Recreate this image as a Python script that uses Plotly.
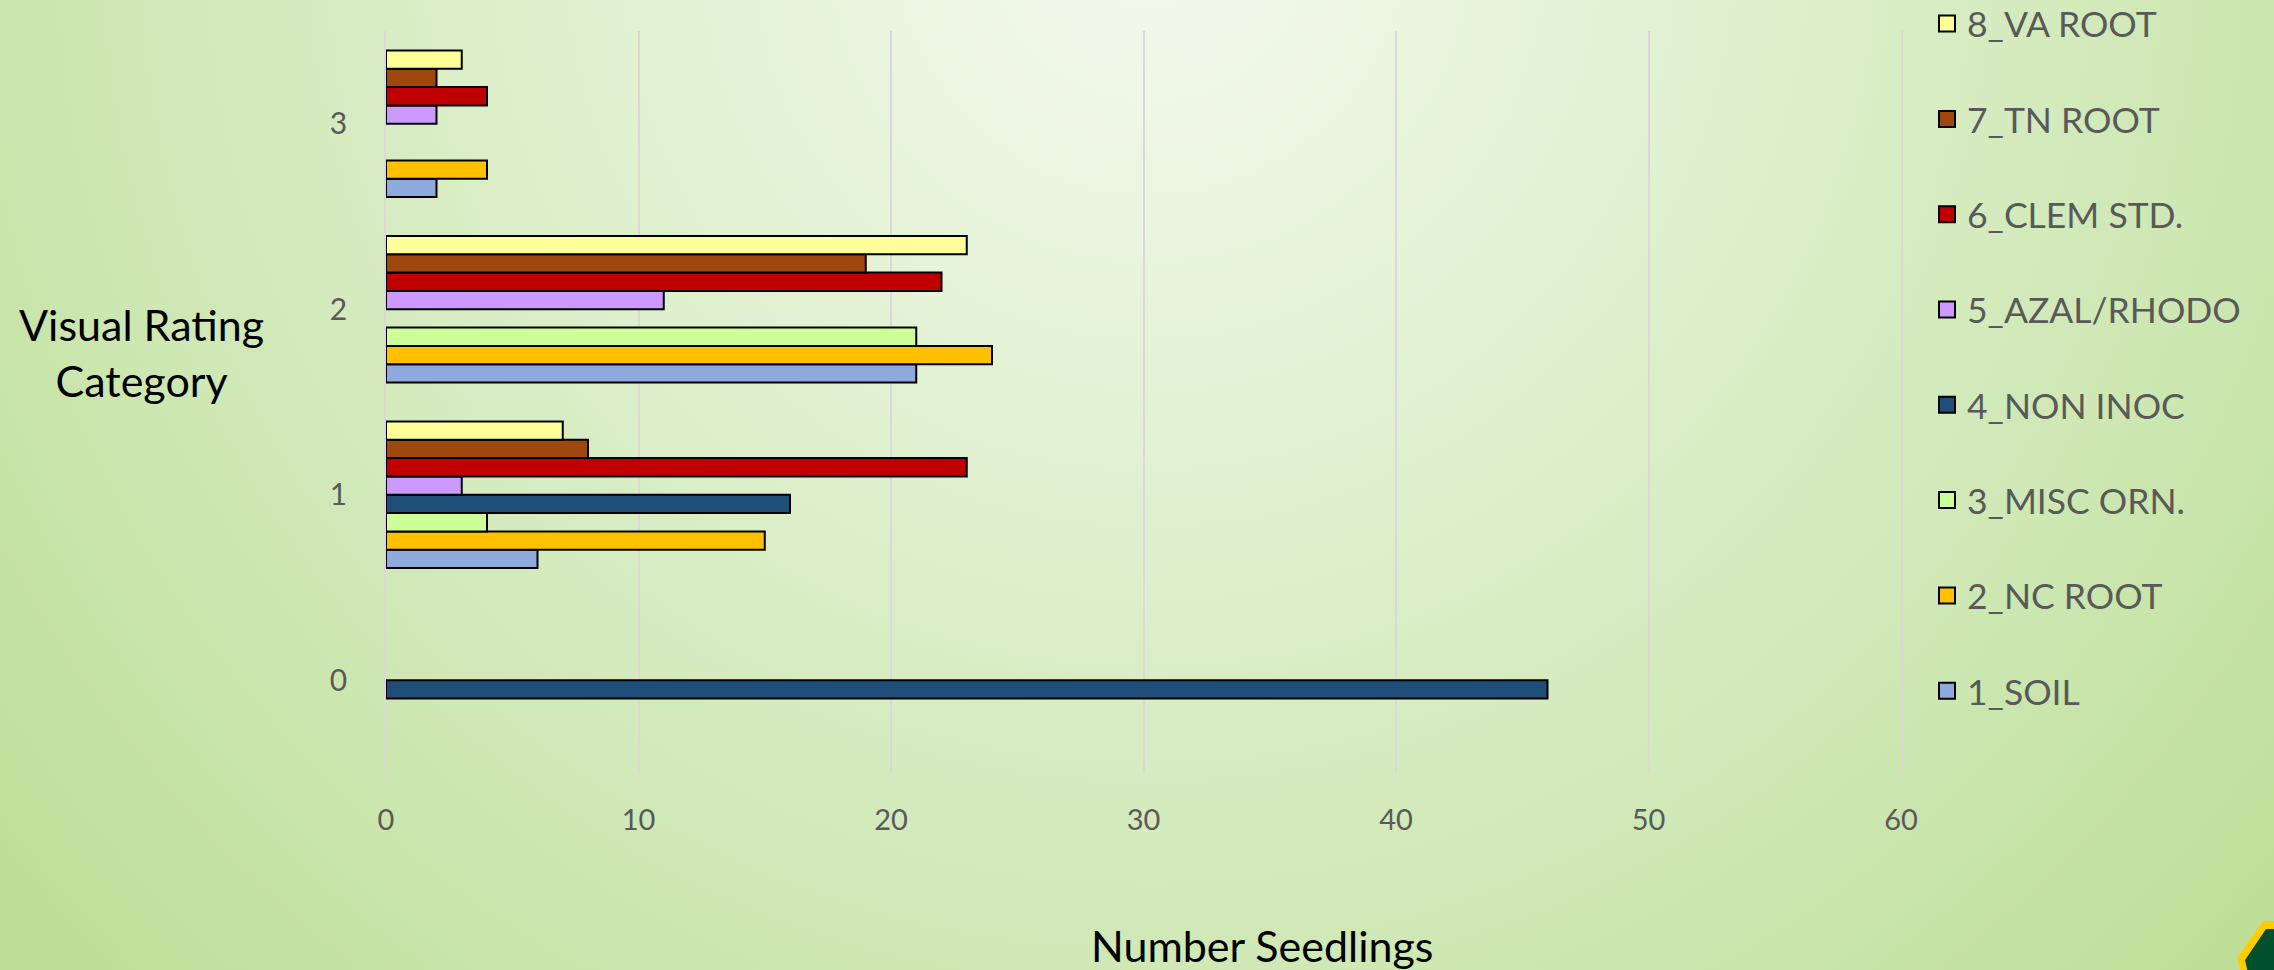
import base64
import plotly.graph_objects as go

# ---- data ----
categories = ["0", "1", "2", "3"]
series_names = ["1_SOIL", "2_NC ROOT", "3_MISC ORN.", "4_NON INOC",
                "5_AZAL/RHODO", "6_CLEM STD.", "7_TN ROOT", "8_VA ROOT"]
soil = [None, 6, 21, 2]
nc_root = [None, 15, 24, 4]
misc_orn = [None, 4, 21, None]
non_inoc = [46, 16, None, None]
azal_rhodo = [None, 3, 11, 2]
clem_std = [None, 23, 22, 4]
tn_root = [None, 8, 19, 2]
va_root = [None, 7, 23, 3]
x_ticks = [0, 10, 20, 30, 40, 50, 60]

series_values = [soil, nc_root, misc_orn, non_inoc, azal_rhodo, clem_std, tn_root, va_root]
colors = ["#8EA9DB", "#FFC000", "#CCFF99", "#1F4E79",
          "#CC99FF", "#C00000", "#9E480E", "#FFFF99"]

W, H = 2274, 970
L, R, T, B = 386, 373, 31, 197
pw, ph = W - L - R, H - T - B


def px(xp):
    return (xp - L) / pw


def py(yp):
    return (H - B - yp) / ph


fig = go.Figure()
for name, vals, col in zip(series_names, series_values, colors):
    fig.add_trace(go.Bar(
        y=categories, x=vals, orientation="h", name=name,
        marker=dict(color=col, line=dict(color="#000000", width=2)),
        showlegend=False,
    ))
# legend entries (larger square swatches), top item = 8_VA ROOT
for i in range(len(series_names) - 1, -1, -1):
    fig.add_trace(go.Scatter(
        x=[None], y=[None], mode="markers", name=series_names[i] + "<br> ",
        marker=dict(symbol="square", size=16, color=colors[i],
                    line=dict(color="#000000", width=2)),
    ))

# background gradient as svg
svg = f'''<svg xmlns="http://www.w3.org/2000/svg" width="{W}" height="{H}" viewBox="0 0 {W} {H}">
<defs><radialGradient id="g" gradientUnits="userSpaceOnUse" cx="1150" cy="-60" r="1480">
<stop offset="0" stop-color="#f3faee"/>
<stop offset="0.35" stop-color="#e1f1d2"/>
<stop offset="0.7" stop-color="#cfe8b5"/>
<stop offset="1" stop-color="#bedf98"/>
</radialGradient></defs>
<rect x="0" y="0" width="{W}" height="{H}" fill="url(#g)"/></svg>'''
src = "data:image/svg+xml;base64," + base64.b64encode(svg.encode()).decode()


def poly(points):
    return "M " + " L ".join(f"{px(a):.5f},{py(b):.5f}" for a, b in points) + " Z"


logo_outer = [(2263, 921), (2290, 921), (2290, 990), (2246, 990), (2237, 958)]
logo_inner = [(2266, 929), (2290, 929), (2290, 990), (2252, 990), (2245, 960)]

fig.update_layout(
    width=W, height=H,
    margin=dict(l=L, r=R, t=T, b=B, pad=0, autoexpand=False),
    paper_bgcolor="#d3ebbd",
    plot_bgcolor="rgba(0,0,0,0)",
    barmode="group", bargap=0.21, bargroupgap=0,
    font=dict(family="Lato, Carlito, Calibri, sans-serif", color="#595959"),
    images=[dict(source=src, xref="paper", yref="paper",
                 x=-L / pw, y=1 + T / ph, sizex=W / pw, sizey=H / ph,
                 xanchor="left", yanchor="top", sizing="stretch", layer="below")],
    shapes=[
        dict(type="path", xref="paper", yref="paper", path=poly(logo_outer),
             fillcolor="#FFCC00", line=dict(width=0), layer="above"),
        dict(type="path", xref="paper", yref="paper", path=poly(logo_inner),
             fillcolor="#00502D", line=dict(width=0), layer="above"),
    ],
    legend=dict(
        x=px(1927), xanchor="left", y=1 + (T + 6) / ph, yanchor="top",
        traceorder="normal", valign="top", maxheight=965,
        font=dict(size=35.5, color="#595959"), bgcolor="rgba(0,0,0,0)",
        itemwidth=30,
    ),
    xaxis=dict(range=[0, 60], tickvals=x_ticks, showgrid=True,
               gridcolor="#d9d9d9", gridwidth=1.5, zeroline=False,
               showline=False, ticks="", tickfont=dict(size=29, color="#595959"),
               ticklabelstandoff=27, fixedrange=True),
    yaxis=dict(type="category", categoryorder="array", categoryarray=categories,
               showgrid=False, zeroline=False, ticks="",
               showline=True, mirror=True, linecolor="#d9d9d9", linewidth=1.5,
               layer="below traces",
               tickfont=dict(size=30, color="#595959"), ticklabelstandoff=31),
    annotations=[
        dict(text="Visual Rating<br>Category", xref="paper", yref="paper",
             x=px(141), y=py(352), showarrow=False,
             xanchor="center", yanchor="middle", align="center",
             font=dict(size=43, color="#000000")),
        dict(text="Number Seedlings", xref="paper", yref="paper",
             x=px(1262), y=py(973), showarrow=False,
             xanchor="center", yanchor="bottom",
             font=dict(size=43, color="#000000")),
    ],
)

fig.write_html(
    "out.html",
    config={"displayModeBar": False},
    post_script="document.body.style.margin='0';document.body.style.overflow='hidden';",
)
